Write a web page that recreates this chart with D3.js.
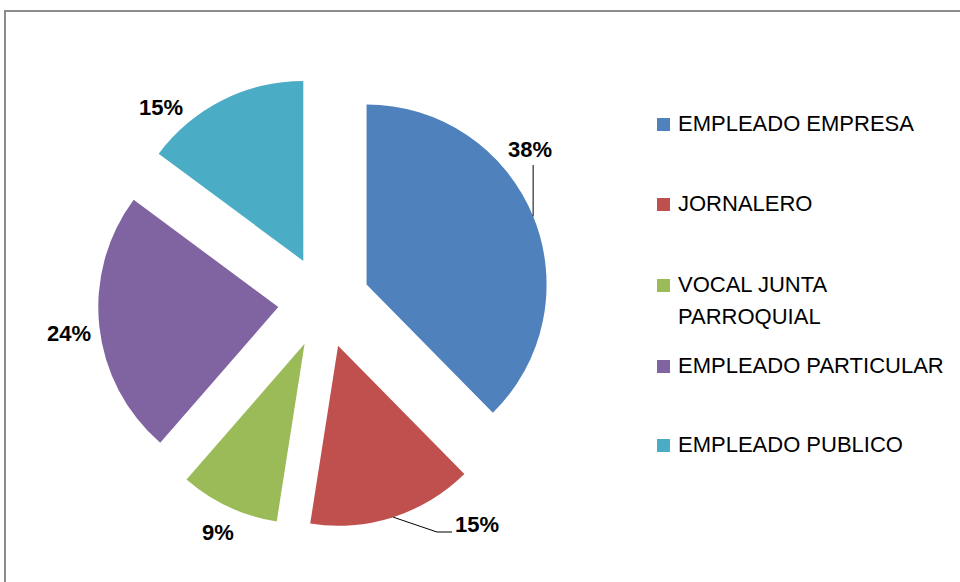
<!DOCTYPE html>
<html><head><meta charset="utf-8">
<script src="https://cdn.jsdelivr.net/npm/d3@7/dist/d3.min.js"></script>
<style>body{margin:0;background:#fff}svg{display:block}</style>
</head><body><svg id="c" width="960" height="582"></svg>
<script>
const categories = ["EMPLEADO EMPRESA","JORNALERO","VOCAL JUNTA PARROQUIAL","EMPLEADO PARTICULAR","EMPLEADO PUBLICO"];
const values = [38, 15, 9, 24, 15];
const labels = ["38%","15%","9%","24%","15%"];
const colors = ["#4F81BD","#C0504D","#9BBB59","#8064A2","#4BACC6"];

const svg = d3.select("#c");
const font = "'Liberation Sans', Arial, sans-serif";

// frame
svg.append("path").attr("d","M5,582 V11 H960").attr("fill","none").attr("stroke","#8c8c8c").attr("stroke-width",2);

const cx = 324, cy = 302, R = 180, explode = 46;
const pie = d3.pie().sort(null).value(d => d)(values);
const arc = d3.arc().innerRadius(0).outerRadius(R);
const g = svg.append("g").attr("transform",`translate(${cx},${cy})`);

pie.forEach((p,i) => {
  const mid = (p.startAngle + p.endAngle)/2;
  const ox = explode*Math.sin(mid), oy = -explode*Math.cos(mid);
  g.append("path").attr("d", arc(p)).attr("fill", colors[i])
    .attr("transform",`translate(${ox},${oy})`);
  p.ox = ox; p.oy = oy; p.mid = mid;
});

// label layout (position offsets relative to chart center)
const labelLayout = [
  {x:530, y:157, leader:"up"},
  {x:455, y:532, anchor:"start", leader:"elbow"},
  {x:218, y:540},
  {x:69, y:341},
  {x:161, y:115}
];
pie.forEach((p,i) => {
  const L = labelLayout[i];
  svg.append("text").attr("x",L.x).attr("y",L.y)
    .attr("text-anchor", L.anchor || "middle")
    .attr("font-family",font).attr("font-weight","bold").attr("font-size",22)
    .attr("fill","#000").text(labels[i]);
  const sx = cx + p.ox + R*Math.sin(p.mid), sy = cy + p.oy - R*Math.cos(p.mid);
  if (L.leader === "up") {
    svg.append("path").attr("d",`M${sx},${sy} V${L.y+8}`).attr("stroke","#000").attr("stroke-width",1).attr("fill","none");
  } else if (L.leader === "elbow") {
    svg.append("path").attr("d",`M${sx},${sy} L${L.x-18},${L.y} H${L.x-3}`).attr("stroke","#000").attr("stroke-width",1).attr("fill","none");
  }
});

// legend
const legendRows = [
  {lines:["EMPLEADO EMPRESA"], y:131},
  {lines:["JORNALERO"], y:211},
  {lines:["VOCAL JUNTA","PARROQUIAL"], y:292},
  {lines:["EMPLEADO PARTICULAR"], y:373},
  {lines:["EMPLEADO PUBLICO"], y:452}
];
legendRows.forEach((r,i) => {
  svg.append("rect").attr("x",657).attr("y",r.y-13).attr("width",13).attr("height",13).attr("fill",colors[i]);
  const t = svg.append("text").attr("x",678).attr("y",r.y)
    .attr("font-family",font).attr("font-size",22).attr("fill","#000");
  r.lines.forEach((ln,j) => t.append("tspan").attr("x",678).attr("dy", j===0?0:32).text(ln));
});
</script></body></html>
